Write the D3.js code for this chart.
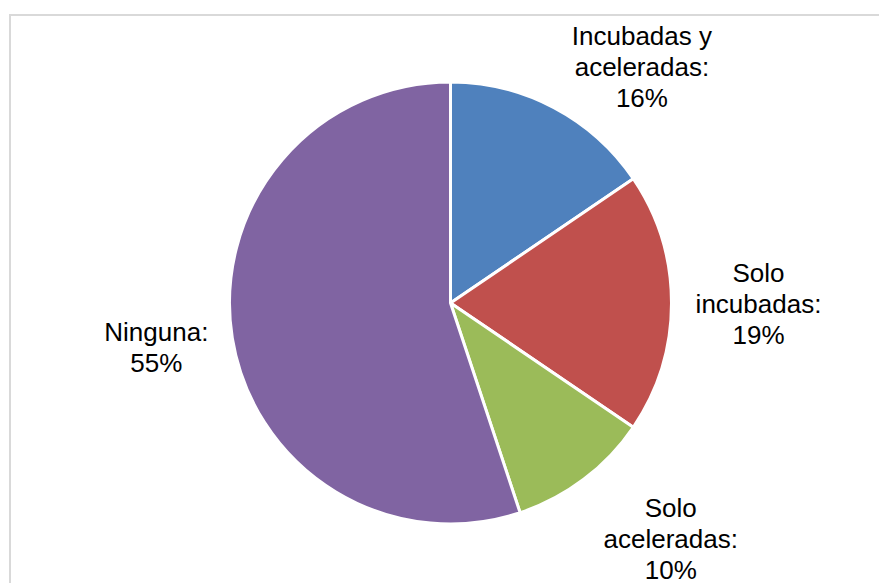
<!DOCTYPE html>
<html>
<head>
<meta charset="utf-8">
<script src="https://cdn.jsdelivr.net/npm/d3@7"></script>
<style>
  html, body { margin: 0; padding: 0; background: #fff; }
  svg { display: block; }
</style>
</head>
<body>
<svg id="chart" width="879" height="583"></svg>
<script>
const categories = ["Incubadas y aceleradas", "Solo incubadas", "Solo aceleradas", "Ninguna"];
const values = [15.5, 19.0, 10.4, 55.1];
const colors = ["#4F81BD", "#C0504D", "#9BBB59", "#8064A2"];
const labelNames = [
  ["Incubadas y", "aceleradas:"],
  ["Solo", "incubadas:"],
  ["Solo", "aceleradas:"],
  ["Ninguna:"]
];

const W = 879, H = 583;
const cx = 450.5, cy = 303, R = 221;
const svg = d3.select("#chart");

// chart border (extends beyond right & bottom)
svg.append("rect")
  .attr("x", 10).attr("y", 15)
  .attr("width", W + 20).attr("height", H + 20)
  .attr("fill", "#fff")
  .attr("stroke", "#d9d9d9").attr("stroke-width", 2);

const total = d3.sum(values);
const data = categories.map((c, i) => ({
  cat: c, value: values[i], color: colors[i],
  lines: labelNames[i].concat([Math.round(values[i] / total * 100) + "%"])
}));

const pie = d3.pie().value(d => d.value).sort(null);
const arc = d3.arc().innerRadius(0).outerRadius(R);
const arcs = pie(data);

const g = svg.append("g").attr("transform", `translate(${cx},${cy})`);
g.selectAll("path").data(arcs).join("path")
  .attr("d", arc)
  .attr("fill", d => d.data.color)
  .attr("stroke", "#fff")
  .attr("stroke-width", 3)
  .attr("stroke-linejoin", "round");

// label offsets from the slice's outer mid-point
const labelOffsets = [[88, -41], [87, 1], [87, 60], [-76, 9]];
const lineH = 31;
arcs.forEach((a, i) => {
  const mid = (a.startAngle + a.endAngle) / 2;
  const x = cx + Math.sin(mid) * R + labelOffsets[i][0];
  const y = cy - Math.cos(mid) * R + labelOffsets[i][1];
  const n = a.data.lines.length;
  const t = svg.append("text")
    .attr("text-anchor", "middle")
    .attr("font-family", "Liberation Sans, Arial, sans-serif")
    .attr("font-size", 26)
    .attr("fill", "#000");
  a.data.lines.forEach((ln, k) => {
    t.append("tspan")
      .attr("x", x)
      .attr("y", y + (k - (n - 1) / 2) * lineH + 9)
      .text(ln);
  });
});
</script>
</body>
</html>
